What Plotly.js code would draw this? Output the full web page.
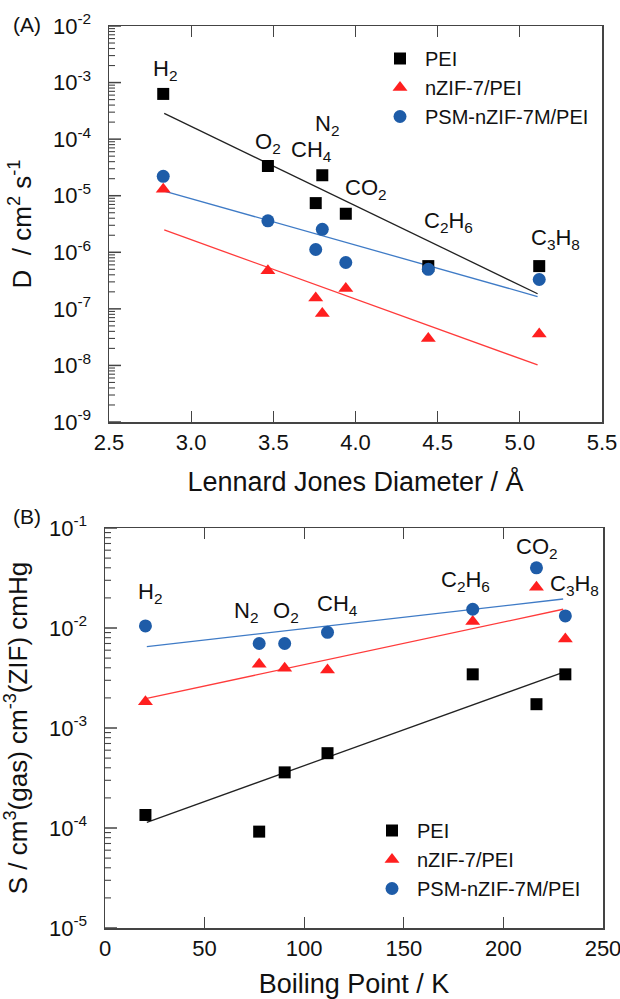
<!DOCTYPE html>
<html>
<head>
<meta charset="utf-8">
<script src="https://cdn.plot.ly/plotly-3.0.1.min.js"></script>
<style>html,body{margin:0;padding:0;background:#fff}#chart{width:620px;height:999px}</style>
</head>
<body>
<div id="chart"></div>
<script>
// ---------- Panel A: diffusivity vs Lennard-Jones diameter ----------
const gasesA = ["H2","O2","N2","CH4","CO2","C2H6","C3H8"];
const ljDiameter = [2.83, 3.467, 3.798, 3.758, 3.941, 4.443, 5.118];
const D_PEI   = [6.3e-4, 3.35e-5, 2.3e-5, 7.4e-6, 4.8e-6, 5.7e-7, 5.7e-7];
const D_nZIF  = [1.3e-5, 4.7e-7, 8.3e-8, 1.55e-7, 2.3e-7, 3.0e-8, 3.6e-8];
const D_PSM   = [2.2e-5, 3.6e-6, 2.55e-6, 1.12e-6, 6.6e-7, 5.0e-7, 3.3e-7];
const fitA_x      = [2.836, 5.108];
const fitA_PEI    = [2.86e-4, 1.85e-7];
const fitA_nZIF   = [2.48e-6, 1.02e-8];
const fitA_PSM    = [1.21e-5, 1.65e-7];
const xTicksA = [2.5, 3.0, 3.5, 4.0, 4.5, 5.0, 5.5];
const xTickTextA = ["2.5", "3.0", "3.5", "4.0", "4.5", "5.0", "5.5"];
const yTicksA = [1e-9, 1e-8, 1e-7, 1e-6, 1e-5, 1e-4, 1e-3, 1e-2];
const yTickTextA = ["10<sup>-9</sup>", "10<sup>-8</sup>", "10<sup>-7</sup>", "10<sup>-6</sup>", "10<sup>-5</sup>", "10<sup>-4</sup>", "10<sup>-3</sup>", "10<sup>-2</sup>"];

// ---------- Panel B: solubility vs boiling point ----------
const boilingPoint = [20.3, 77.4, 90.2, 111.7, 184.6, 216.6, 231.1];
const S_PEI  = [1.35e-4, 9.2e-5, 3.6e-4, 5.6e-4, 3.44e-3, 1.73e-3, 3.44e-3];
const S_nZIF = [1.83e-3, 4.33e-3, 3.95e-3, 3.8e-3, 1.16e-2, 2.55e-2, 7.76e-3];
const S_PSM  = [1.05e-2, 7.0e-3, 7.0e-3, 9.06e-3, 1.54e-2, 4.0e-2, 1.32e-2];
const fitB_x     = [21, 230];
const fitB_PEI   = [1.14e-4, 3.6e-3];
const fitB_nZIF  = [1.98e-3, 1.54e-2];
const fitB_PSM   = [6.5e-3, 1.95e-2];
const xTicksB = [0, 50, 100, 150, 200, 250];
const xTickTextB = ["0", "50", "100", "150", "200", "250"];
const yTicksB = [1e-5, 1e-4, 1e-3, 1e-2, 1e-1];
const yTickTextB = ["10<sup>-5</sup>", "10<sup>-4</sup>", "10<sup>-3</sup>", "10<sup>-2</sup>", "10<sup>-1</sup>"];

const seriesNames = ["PEI", "nZIF-7/PEI", "PSM-nZIF-7M/PEI"];
const labelsA = ["H<sub>2</sub>","O<sub>2</sub>","N<sub>2</sub>","CH<sub>4</sub>","CO<sub>2</sub>","C<sub>2</sub>H<sub>6</sub>","C<sub>3</sub>H<sub>8</sub>"];
const labelsB = ["H<sub>2</sub>","N<sub>2</sub>","O<sub>2</sub>","CH<sub>4</sub>","C<sub>2</sub>H<sub>6</sub>","CO<sub>2</sub>","C<sub>3</sub>H<sub>8</sub>"];

// style
const W = 620, H = 999;
const FONT = "Liberation Sans, Arial, Helvetica, sans-serif";
const colBlack = "#000000", colRed = "#ff1f1f", colBlue = "#1e5ca8";
const lineBlack = "#222222", lineRed = "#ff3b3b", lineBlue = "#3f7bc6";
const px = v => v / W, py = v => 1 - v / H;
const TICKC = "#444";

// minor log tick positions (2..9 in each decade) - axis decoration only
function minorLog(lo, hi) {
  const out = [];
  for (let e = lo; e < hi; e++) for (let m = 2; m <= 9; m++) out.push(m * Math.pow(10, e));
  return out;
}
// tick marks for a log y axis, drawn as short lines from the left spine (axis decoration)
function yTickShapes(xref, yref, lo, hi, majors, plotWidthPx) {
  const shapes = [];
  const frac = v => (Math.log10(v) - lo) / (hi - lo);
  majors.forEach(v => shapes.push({type: "line", xref: xref + " domain", yref: yref + " domain",
    x0: 0, x1: 12 / plotWidthPx, y0: frac(v), y1: frac(v), line: {color: TICKC, width: 1.5}, layer: "above"}));
  minorLog(lo, hi).forEach(v => shapes.push({type: "line", xref: xref + " domain", yref: yref + " domain",
    x0: 0, x1: 6 / plotWidthPx, y0: frac(v), y1: frac(v), line: {color: TICKC, width: 1.1}, layer: "above"}));
  return shapes;
}

function markerTrace(x, y, name, symbol, color, xa, ya, leg, size) {
  return {x, y, name, type: "scatter", mode: "markers", xaxis: xa, yaxis: ya, legend: leg,
    marker: {symbol, color, size: size, line: {width: 0}}};
}
function lineTrace(x, y, color, xa, ya) {
  return {x, y, type: "scatter", mode: "lines", xaxis: xa, yaxis: ya, showlegend: false,
    line: {color, width: 1.3}, hoverinfo: "skip"};
}

const data = [
  lineTrace(fitA_x, fitA_PEI, lineBlack, "x", "y"),
  lineTrace(fitA_x, fitA_nZIF, lineRed, "x", "y"),
  lineTrace(fitA_x, fitA_PSM, lineBlue, "x", "y"),
  markerTrace(ljDiameter, D_PEI, seriesNames[0], "square", colBlack, "x", "y", "legend", 12),
  markerTrace(ljDiameter, D_nZIF, seriesNames[1], "triangle-up", colRed, "x", "y", "legend", 13),
  markerTrace(ljDiameter, D_PSM, seriesNames[2], "circle", colBlue, "x", "y", "legend", 13),
  lineTrace(fitB_x, fitB_PEI, lineBlack, "x2", "y2"),
  lineTrace(fitB_x, fitB_nZIF, lineRed, "x2", "y2"),
  lineTrace(fitB_x, fitB_PSM, lineBlue, "x2", "y2"),
  markerTrace(boilingPoint, S_PEI, seriesNames[0], "square", colBlack, "x2", "y2", "legend2", 12),
  markerTrace(boilingPoint, S_nZIF, seriesNames[1], "triangle-up", colRed, "x2", "y2", "legend2", 13),
  markerTrace(boilingPoint, S_PSM, seriesNames[2], "circle", colBlue, "x2", "y2", "legend2", 13)
];

const axisLine = {showline: true, linecolor: "#444", linewidth: 1.5, showgrid: false, zeroline: false,
  tickfont: {family: FONT, size: 22, color: "#111"}, ticklabeloverflow: "allow"};

function xAxis(extra) {
  return Object.assign({}, axisLine, {mirror: "ticks", ticks: "inside", ticklen: 11, tickwidth: 1.3, tickcolor: TICKC,
    tickmode: "array"}, extra);
}
function yAxis(extra) {
  return Object.assign({}, axisLine, {type: "log", mirror: true, ticks: "", tickmode: "array", ticklabelstandoff: 12}, extra);
}

const annotations = [];
const posA = [[165,70],[268,143],[327,125],[312,151],[366,189],[448,222],[555,239]];
const posB = [[150,593],[246,612],[286,612],[337,605],[465,581],[537,548],[574,585]];
labelsA.forEach((t,i) => annotations.push({text: t, xref: "paper", yref: "paper", x: px(posA[i][0]), y: py(posA[i][1]),
  xanchor: "center", yanchor: "middle", showarrow: false, font: {family: FONT, size: 22, color: "#111"}}));
labelsB.forEach((t,i) => annotations.push({text: t, xref: "paper", yref: "paper", x: px(posB[i][0]), y: py(posB[i][1]),
  xanchor: "center", yanchor: "middle", showarrow: false, font: {family: FONT, size: 22, color: "#111"}}));
annotations.push({text: "(A)", xref: "paper", yref: "paper", x: px(27), y: py(24), xanchor: "center", yanchor: "middle",
  showarrow: false, font: {family: FONT, size: 21, color: "#111"}});
annotations.push({text: "(B)", xref: "paper", yref: "paper", x: px(27), y: py(516), xanchor: "center", yanchor: "middle",
  showarrow: false, font: {family: FONT, size: 21, color: "#111"}});

const legendStyle = {font: {family: FONT, size: 20, color: "#111"}, bgcolor: "rgba(0,0,0,0)", borderwidth: 0,
  xanchor: "left", yanchor: "top", itemwidth: 40, tracegroupgap: 0};

const shapes = yTickShapes("x", "y", -9, -2, yTicksA, 602 - 109)
  .concat(yTickShapes("x2", "y2", -5, -1, yTicksB, 603 - 105));

const layout = {
  width: W, height: H, margin: {l: 0, r: 0, t: 0, b: 0}, paper_bgcolor: "#fff", plot_bgcolor: "#fff",
  font: {family: FONT, color: "#111"},
  xaxis: xAxis({domain: [px(109), px(602)], anchor: "y", range: [2.5, 5.5], tickvals: xTicksA, ticktext: xTickTextA,
    title: {text: "Lennard Jones Diameter / Å", font: {family: FONT, size: 27, color: "#111"}, standoff: 18}}),
  yaxis: yAxis({domain: [py(422), py(26)], anchor: "x", range: [-9, -2], tickvals: yTicksA, ticktext: yTickTextA,
    title: {text: "D  / cm<sup>2</sup> s<sup>-1</sup>", font: {family: FONT, size: 26, color: "#111"}, standoff: 14}}),
  xaxis2: xAxis({domain: [px(105), px(603)], anchor: "y2", range: [0, 250], tickvals: xTicksB, ticktext: xTickTextB,
    title: {text: "Boiling Point / K", font: {family: FONT, size: 27, color: "#111"}, standoff: 18}}),
  yaxis2: yAxis({domain: [py(928), py(528)], anchor: "x2", range: [-5, -1], tickvals: yTicksB, ticktext: yTickTextB,
    title: {text: "S / cm<sup>3</sup>(gas) cm<sup>-3</sup>(ZIF) cmHg", font: {family: FONT, size: 26, color: "#111"}, standoff: 14}}),
  legend: Object.assign({}, legendStyle, {x: px(375), y: py(39)}),
  legend2: Object.assign({}, legendStyle, {x: px(367), y: py(811)}),
  shapes: shapes,
  annotations: annotations
};

Plotly.newPlot("chart", data, layout, {staticPlot: true, displayModeBar: false});
</script>
</body>
</html>
